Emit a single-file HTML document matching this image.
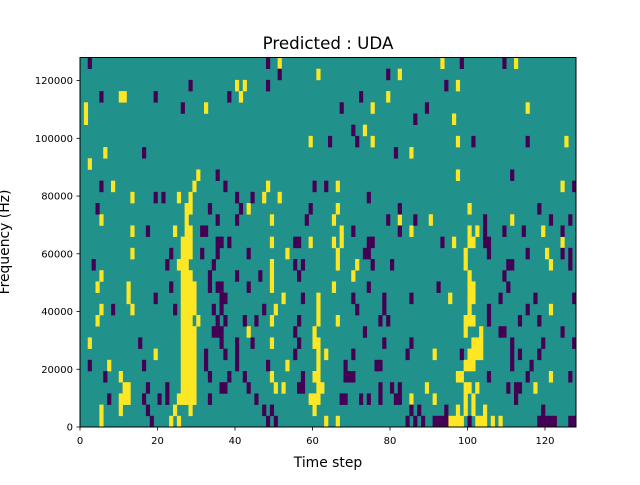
<!DOCTYPE html>
<html><head><meta charset="utf-8"><style>
body{margin:0;background:#fff;width:640px;height:480px;overflow:hidden;font-family:"Liberation Sans","DejaVu Sans",sans-serif}
svg text{font-family:"DejaVu Sans","Liberation Sans",sans-serif;fill:#000}
</style></head><body>
<svg id="chart" width="640" height="480" viewBox="0 0 640 480" xmlns="http://www.w3.org/2000/svg">
<rect width="640" height="480" fill="#fff"/>
<text x="328" y="49" font-size="16.7" text-anchor="middle">Predicted : UDA</text>
<text x="328" y="467" font-size="13.9" text-anchor="middle">Time step</text>
<text x="9" y="242" font-size="13.9" text-anchor="middle" transform="rotate(-90 9 242)">Frequency (Hz)</text>
<g id="cells"></g>
<g id="axes"></g>
</svg>
<script>
// Rows listed top (highest frequency bin) to bottom (bin 0); values are time-step columns.
const nCols = 128;
const nRows = 33;
const xTicks = [0, 20, 40, 60, 80, 100, 120];
const yTicks = [0, 20000, 40000, 60000, 80000, 100000, 120000];
const yellowByRow = [
[51,93,112],[61,82],[40,42,97],[10,11,41,79],[1,32,75,115],[1,96],[73],[59,75,97,125],
[6,85],[2],[30,97],[8,29,48,66,124],[13,25,28,47,51],[27,28,43,66,100],[5,27,49,65,82,90,111],
[13,24,27,28,67,85,100,102,119],[26,27,28,49,59,65,67,96,100,101,124],[13,26,27,28,53,66,99,120],
[25,26,27,49,66,71,99,121],[5,26,27,28,49,70,100],[4,12,26,27,28,29,49,65,100,101],
[12,26,27,28,29,52,61,95,100,101],[5,13,26,27,28,29,50,61,100,121],[4,26,27,28,30,49,61,66,99,100,101],
[26,27,28,29,43,60,99,103],[2,26,27,28,29,49,60,61,101,102,103],[19,26,27,28,29,61,63,91,100,101,102,103],
[7,26,27,28,29,53,61,99,100,101],[10,26,27,28,29,49,60,61,97,98,121],
[11,12,26,27,28,29,50,52,61,62,89,99,100,102,117],[10,11,12,25,26,27,28,29,59,60,61,85,91,99,101],
[5,10,24,28,60,97,99,101,104],[5,23,25,63,66,95,96,97,98,102,103,104,106,108]
];
const purpleByRow = [
[2,48,98,109],[51,79],[28,48,94],[5,19,38,72],[26,67,89],[86],[70],[64,71,101,115],
[16,81],[],[35,111],[5,37,60,63,127],[19,21,40,44,74],[4,33,41,59,82,118],[35,40,58,79,86,104,121,126],
[17,31,32,70,82,104,109,114,124],[35,36,38,55,56,74,75,93,104,105],[23,31,35,43,73,74,105,115,124,126],
[3,22,34,55,57,75,80,110,111,126],[33,40,46,56,109],[23,33,35,36,43,74,92,110],
[19,36,37,57,70,78,85,108,117,127],[8,24,34,36,47,71,78,105,115],[35,37,42,45,56,77,79,105,113,118],
[34,35,36,55,73,108,109,124],[15,36,40,44,56,78,85,111,119,127],[32,37,40,55,70,84,98,111,113,118],
[2,16,32,40,48,68,76,77,111,116],[6,33,38,42,57,68,69,70,105,115,126],
[17,22,36,37,43,56,57,77,80,82,110,112,113],[7,16,20,22,33,45,67,68,72,74,77,81,82,112],
[17,47,49,85,87,94,119],[18,48,50,84,86,88,91,92,93,94,100,118,119,120,121,122,126,127]
];
const NS='http://www.w3.org/2000/svg';
const L=80,R=576,T=57.5,B=427,yMax=128000;
const xs=v=>L+(v/nCols)*(R-L);
const ys=v=>B-(v/yMax)*(B-T);
const rowTop=r=>T+r*(B-T)/nRows;
const rowH=(B-T)/nRows;
function mk(tag,attrs,parent){const e=document.createElementNS(NS,tag);for(const k in attrs)e.setAttribute(k,attrs[k]);parent.appendChild(e);return e;}
const cells=document.getElementById('cells');
const bg=mk('rect',{x:L,y:T,width:R-L,height:B-T,fill:'#21918c'},cells);


function drawSet(data,color,name){
  data.forEach((cols,r)=>{cols.forEach(c=>{
    const e=mk('rect',{x:xs(c),y:rowTop(r),width:xs(c+1)-xs(c)+0.3,height:rowH+0.3,fill:color},cells);
    
    
  });});
}
drawSet(yellowByRow,'#fde725','cell-high');
drawSet(purpleByRow,'#440154','cell-low');
const ax=document.getElementById('axes');
const frame=mk('rect',{x:L,y:T,width:R-L,height:B-T,fill:'none',stroke:'#000','stroke-width':1},ax);


xTicks.forEach(v=>{
  const x=xs(v);
  const t=mk('line',{x1:x,x2:x,y1:B,y2:B+3.5,stroke:'#000','stroke-width':0.8},ax);
  
  
  const lb=mk('text',{x:x,y:B+17,'font-size':10,'text-anchor':'middle'},ax);
  lb.textContent=v;
  
  
});
yTicks.forEach(v=>{
  const y=ys(v);
  const t=mk('line',{x1:L-3.5,x2:L,y1:y,y2:y,stroke:'#000','stroke-width':0.8},ax);
  
  
  const lb=mk('text',{x:L-7,y:y+3.5,'font-size':10,'text-anchor':'end'},ax);
  lb.textContent=v;
  
  
});
</script>
</body></html>
